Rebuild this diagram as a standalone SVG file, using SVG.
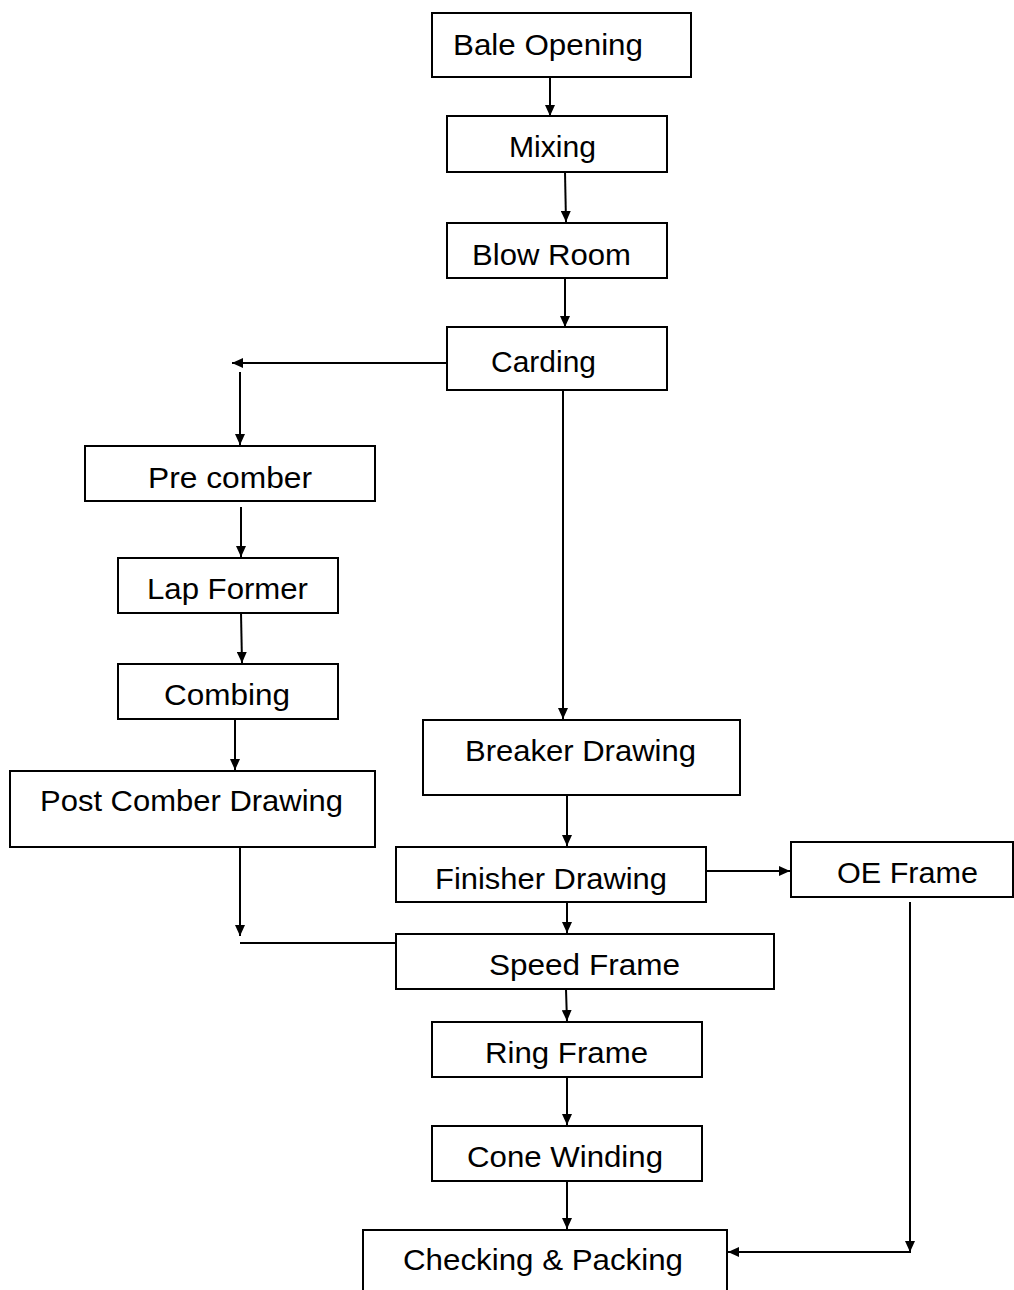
<svg xmlns="http://www.w3.org/2000/svg" width="1014" height="1290" viewBox="0 0 1014 1290">
<style>
.box{fill:#fff;stroke:#000;stroke-width:2}
.lbl{font-family:"Liberation Sans",Arial,sans-serif;font-size:30px;fill:#000;text-anchor:middle}
.c{fill:none;stroke:#000;stroke-width:2}
</style>
<defs>
<marker id="ah" markerUnits="userSpaceOnUse" markerWidth="12" markerHeight="10" refX="11" refY="5" orient="auto">
<path d="M0,0 L11,5 L0,10 z" fill="#000"/>
</marker>
</defs>
<rect width="1014" height="1290" fill="#fff"/>
<g id="connectors">
<line class="c" x1="550" y1="77" x2="550" y2="116" marker-end="url(#ah)"/>
<line class="c" x1="565" y1="172" x2="566" y2="222" marker-end="url(#ah)"/>
<line class="c" x1="565" y1="278" x2="565" y2="327" marker-end="url(#ah)"/>
<line class="c" x1="447" y1="363" x2="232" y2="363" marker-end="url(#ah)"/>
<line class="c" x1="240" y1="372" x2="240" y2="445" marker-end="url(#ah)"/>
<line class="c" x1="241" y1="507" x2="241" y2="557" marker-end="url(#ah)"/>
<line class="c" x1="241" y1="613" x2="242" y2="663" marker-end="url(#ah)"/>
<line class="c" x1="235" y1="719" x2="235" y2="770" marker-end="url(#ah)"/>
<line class="c" x1="240" y1="840" x2="240" y2="936" marker-end="url(#ah)"/>
<line class="c" x1="240" y1="943" x2="396" y2="943"/>
<line class="c" x1="563" y1="391" x2="563" y2="719" marker-end="url(#ah)"/>
<line class="c" x1="567" y1="795" x2="567" y2="846" marker-end="url(#ah)"/>
<line class="c" x1="567" y1="902" x2="567" y2="933" marker-end="url(#ah)"/>
<line class="c" x1="706" y1="871" x2="790" y2="871" marker-end="url(#ah)"/>
<line class="c" x1="566" y1="989" x2="567" y2="1021" marker-end="url(#ah)"/>
<line class="c" x1="567" y1="1077" x2="567" y2="1125" marker-end="url(#ah)"/>
<line class="c" x1="567" y1="1181" x2="567" y2="1229" marker-end="url(#ah)"/>
<line class="c" x1="910" y1="902" x2="910" y2="1252" marker-end="url(#ah)"/>
<line class="c" x1="911" y1="1252" x2="728" y2="1252" marker-end="url(#ah)"/>
</g>
<g id="bale-opening"><rect class="box" x="432" y="13" width="259" height="64"/><text class="lbl" x="548" y="55" textLength="190" lengthAdjust="spacingAndGlyphs">Bale Opening</text></g>
<g id="mixing"><rect class="box" x="447" y="116" width="220" height="56"/><text class="lbl" x="552.5" y="157" textLength="87" lengthAdjust="spacingAndGlyphs">Mixing</text></g>
<g id="blow-room"><rect class="box" x="447" y="223" width="220" height="55"/><text class="lbl" x="551.5" y="265" textLength="159" lengthAdjust="spacingAndGlyphs">Blow Room</text></g>
<g id="carding"><rect class="box" x="447" y="327" width="220" height="63"/><text class="lbl" x="543.5" y="372" textLength="105" lengthAdjust="spacingAndGlyphs">Carding</text></g>
<g id="pre-comber"><rect class="box" x="85" y="446" width="290" height="55"/><text class="lbl" x="230" y="488" textLength="164" lengthAdjust="spacingAndGlyphs">Pre comber</text></g>
<g id="lap-former"><rect class="box" x="118" y="558" width="220" height="55"/><text class="lbl" x="227.5" y="599" textLength="161" lengthAdjust="spacingAndGlyphs">Lap Former</text></g>
<g id="combing"><rect class="box" x="118" y="664" width="220" height="55"/><text class="lbl" x="227" y="705" textLength="126" lengthAdjust="spacingAndGlyphs">Combing</text></g>
<g id="post-comber-drawing"><rect class="box" x="10" y="771" width="365" height="76"/><text class="lbl" x="191.5" y="811" textLength="303" lengthAdjust="spacingAndGlyphs">Post Comber Drawing</text></g>
<g id="breaker-drawing"><rect class="box" x="423" y="720" width="317" height="75"/><text class="lbl" x="580.5" y="761" textLength="231" lengthAdjust="spacingAndGlyphs">Breaker Drawing</text></g>
<g id="finisher-drawing"><rect class="box" x="396" y="847" width="310" height="55"/><text class="lbl" x="551" y="889" textLength="232" lengthAdjust="spacingAndGlyphs">Finisher Drawing</text></g>
<g id="oe-frame"><rect class="box" x="791" y="842" width="222" height="55"/><text class="lbl" x="907.5" y="883" textLength="141" lengthAdjust="spacingAndGlyphs">OE Frame</text></g>
<g id="speed-frame"><rect class="box" x="396" y="934" width="378" height="55"/><text class="lbl" x="584.5" y="975" textLength="191" lengthAdjust="spacingAndGlyphs">Speed Frame</text></g>
<g id="ring-frame"><rect class="box" x="432" y="1022" width="270" height="55"/><text class="lbl" x="566.5" y="1063" textLength="163" lengthAdjust="spacingAndGlyphs">Ring Frame</text></g>
<g id="cone-winding"><rect class="box" x="432" y="1126" width="270" height="55"/><text class="lbl" x="565" y="1167" textLength="196" lengthAdjust="spacingAndGlyphs">Cone Winding</text></g>
<g id="checking-packing"><rect class="box" x="363" y="1230" width="364" height="80"/><text class="lbl" x="543" y="1270" textLength="280" lengthAdjust="spacingAndGlyphs">Checking &amp; Packing</text></g>
</svg>
